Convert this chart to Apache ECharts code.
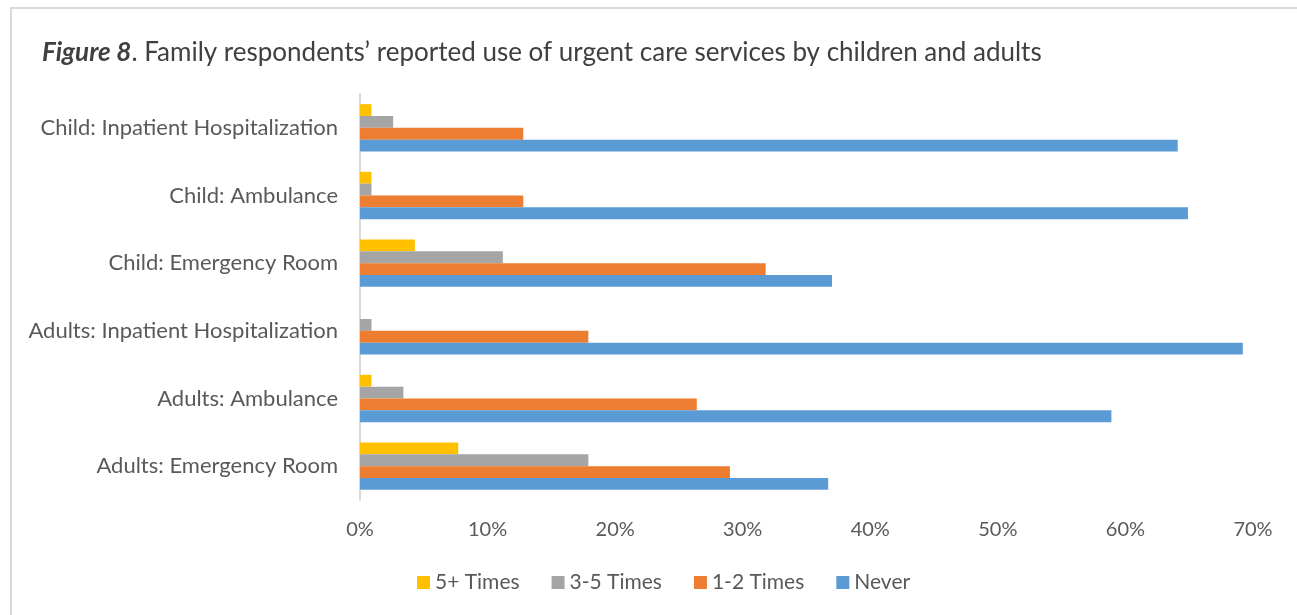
<!DOCTYPE html>
<html>
<head>
<meta charset="utf-8">
<script src="https://cdn.jsdelivr.net/npm/echarts@6/dist/echarts.min.js"></script>
<style>
  html, body { margin: 0; padding: 0; background: #fff; }
  #chart { width: 1297px; height: 615px; }
</style>
</head>
<body>
<div id="chart"></div>
<script>
// Services, listed bottom-to-top as the category axis draws them
const categories = [
  'Adults: Emergency Room',
  'Adults: Ambulance',
  'Adults: Inpatient Hospitalization',
  'Child: Emergency Room',
  'Child: Ambulance',
  'Child: Inpatient Hospitalization'
];

// Share of respondents (%) for each frequency of use
const never      = [36.7, 58.9, 69.2, 37.0, 64.9, 64.1];
const times1to2  = [29.0, 26.4, 17.9, 31.8, 12.8, 12.8];
const times3to5  = [17.9, 3.4, 0.9, 11.2, 0.9, 2.6];
const times5plus = [7.7, 0.9, 0, 4.3, 0.9, 0.9];

const seriesNames = ['5+ Times', '3-5 Times', '1-2 Times', 'Never'];
const xTicks = [0, 10, 20, 30, 40, 50, 60, 70];

const FONT = 'Lato';
const TEXT = '#595959';

const chart = echarts.init(document.getElementById('chart'), null, { renderer: 'canvas' });

function bar(name, data, color) {
  return {
    name: name,
    type: 'bar',
    data: data,
    barGap: '0%',
    barCategoryGap: '30%',
    itemStyle: { color: color },
    emphasis: { disabled: true }
  };
}

chart.setOption({
  animation: false,
  backgroundColor: '#fff',
  graphic: [{
    type: 'rect',
    shape: { x: 11, y: 8, width: 1320, height: 640 },
    style: { fill: 'none', stroke: '#D9D9D9', lineWidth: 2 },
    silent: true
  }],
  title: {
    left: 37,
    top: 35,
    text: '{b|Figure 8}. Family respondents’ reported use of urgent care services by children and adults',
    textStyle: {
      fontFamily: FONT,
      fontSize: 26,
      fontWeight: 'normal',
      color: '#404040',
      rich: {
        b: { fontFamily: FONT, fontSize: 26, fontWeight: 'bold', fontStyle: 'italic', color: '#404040' }
      }
    }
  },
  legend: {
    data: seriesNames,
    bottom: 17,
    left: 412,
    itemWidth: 13,
    itemHeight: 13,
    itemGap: 32,
    icon: 'rect',
    textStyle: { fontFamily: FONT, fontSize: 21, color: TEXT }
  },
  grid: { left: 360, right: 44, top: 94, bottom: 115, containLabel: false },
  xAxis: {
    type: 'value',
    min: xTicks[0],
    max: xTicks[xTicks.length - 1],
    interval: 10,
    axisLine: { show: false },
    axisTick: { show: false },
    splitLine: { show: false },
    axisLabel: {
      formatter: v => v + '%',
      fontFamily: FONT,
      fontSize: 20,
      color: TEXT,
      margin: 20
    }
  },
  yAxis: {
    type: 'category',
    data: categories,
    axisLine: { show: true, lineStyle: { color: '#D9D9D9', width: 2 } },
    axisTick: { show: false },
    axisLabel: { fontFamily: FONT, fontSize: 22, color: TEXT, margin: 22 }
  },
  // listed top-to-bottom within each group
  series: [
    bar('5+ Times', times5plus, '#FFC000'),
    bar('3-5 Times', times3to5, '#A5A5A5'),
    bar('1-2 Times', times1to2, '#ED7D31'),
    bar('Never', never, '#5B9BD5')
  ]
});
</script>
</body>
</html>
